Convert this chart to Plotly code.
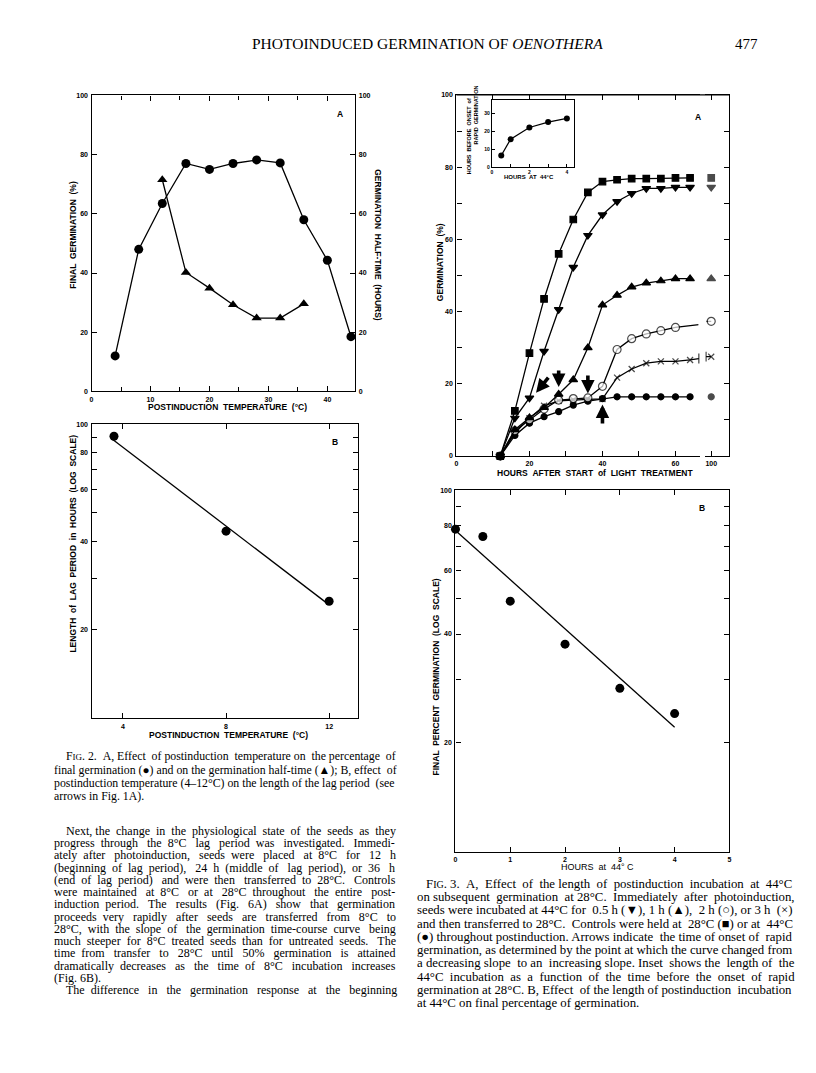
import plotly.graph_objects as go

W, H = 816, 1073

# ---------------- DATA ----------------
# Fig. 2A
temp_2a = [4, 8, 12, 16, 20, 24, 28, 32, 36, 40, 44]
final_germ_2a = [12, 48, 63.5, 77, 75, 77, 78.2, 77.2, 58, 44.3, 18.5]
temp_half_2a = [12, 16, 20, 24, 28, 32, 36]
half_time_2a = [71.5, 40.2, 34.9, 29.3, 24.8, 24.8, 29.6]

# Fig. 2B
temp_2b = [3.65, 8, 12]
lag_2b = [91, 43.3, 25]
fit_2b_x = [3.55, 11.95]
fit_2b_y = [89.5, 24.5]

# Fig. 3A
hours_3a = [12, 16, 20, 24, 28, 32, 36, 40, 44, 48, 52, 56, 60, 64]
ctrl28_sq = [0, 12.5, 28.5, 43.5, 56, 65.5, 73, 76, 76.5, 76.8, 76.8, 76.8, 77, 77]
h05_tri_dn = [0, 10.5, 16.1, 29, 40.6, 52.3, 61.1, 66.8, 70.5, 72.7, 74.1, 74.1, 74.4, 74.4]
h1_tri_up = [0, 7.3, 10.6, 13.4, 17.1, 21.1, 30, 41.8, 44.5, 46.8, 47.9, 48.5, 49.1, 49.1]
h2_open = [0, 7, 10, 13, 15.5, 15.9, 16.1, 19.3, 29.5, 32.5, 33.8, 34.7, 35.6]
h3_cross = [0, 6.4, 10.5, 13.9, 15.3, 15.6, 15.7, 15.8, 21.7, 24.1, 25.7, 26.2, 26.2, 26.6]
ctrl44_dot = [0, 5.7, 9.1, 10.9, 12.3, 14.1, 15.2, 15.9, 16.4, 16.4, 16.4, 16.4, 16.4, 16.4]
hour_far = 100
far_values = {"sq": 77, "dn": 74.4, "up": 49.1, "open": 37.3, "cross": 27.5, "dot": 16.4}
break_hour = 66.4
break_open = 36.4
break_cross = 27.0
far_break_hour = 98.6
# arrows (onset of rapid germination)
arrow_tip_x = [21.8, 28, 36, 40]
arrow_tip_y = [17.5, 19.1, 17.3, 14.3]
arrow_tail_x = [25.5, 28, 36, 40]
arrow_tail_y = [22.1, 24.1, 22.7, 8.6]

# Fig. 3A inset
inset_hours44 = [0.5, 1, 2, 3, 4]
inset_hours_before = [6.5, 15.5, 22, 25, 27]

# Fig. 3B
hours_3b = [0, 0.5, 1, 2, 3, 4]
final_3b = [78, 74.4, 49.3, 37.5, 28.3, 24.1]
fit_3b_x = [0, 4]
fit_3b_y = [77.3, 22.1]

# ---------------- HELPERS ----------------
def px(x):
    return x / W

def py(y):
    return 1 - y / H

def dom_x(a, b):
    return [a / W, b / W]

def dom_y(top, bottom):
    return [1 - bottom / H, 1 - top / H]

SANS = "Liberation Sans"
SERIF = "Liberation Serif"
NB = "\u00a0"
tickfont = dict(family=SANS, size=7, color="black", weight="bold")

def ax_style(**kw):
    d = dict(showline=True, linecolor="black", linewidth=1.3, ticks="inside",
             ticklen=5, tickwidth=1.2, tickcolor="black", showgrid=False,
             zeroline=False, tickfont=tickfont, fixedrange=True, ticklabelstandoff=1)
    d.update(kw)
    return d

fig = go.Figure()
LW = 1.3

# ---- Fig 2A ----
fig.add_trace(go.Scatter(x=temp_2a, y=final_germ_2a, mode="lines+markers",
                         line=dict(color="black", width=LW),
                         marker=dict(symbol="circle", size=9, color="black"),
                         xaxis="x", yaxis="y", cliponaxis=False))
fig.add_trace(go.Scatter(x=temp_half_2a, y=half_time_2a, mode="lines+markers",
                         line=dict(color="black", width=LW),
                         marker=dict(symbol="triangle-up", size=9, color="black"),
                         xaxis="x", yaxis="y2", cliponaxis=False))

# ---- Fig 2B ----
fig.add_trace(go.Scatter(x=fit_2b_x, y=fit_2b_y, mode="lines",
                         line=dict(color="black", width=LW), xaxis="x3", yaxis="y3"))
fig.add_trace(go.Scatter(x=temp_2b, y=lag_2b, mode="markers",
                         marker=dict(symbol="circle", size=9, color="black"),
                         xaxis="x3", yaxis="y3", cliponaxis=False))

# ---- Fig 3A main ----
def series(xs, ys, symbol, color, size, lc="black", lw=1.2):
    fig.add_trace(go.Scatter(x=xs, y=ys, mode="lines+markers",
                             line=dict(color="black", width=LW),
                             marker=dict(symbol=symbol, size=size, color=color,
                                         line=dict(color=lc, width=lw)),
                             xaxis="x4", yaxis="y4", cliponaxis=False))

series(hours_3a, ctrl44_dot, "circle", "black", 6)
series(hours_3a + [break_hour], h3_cross + [break_cross],
       ["x-thin-open"] * len(h3_cross) + ["line-ns-open"], "black",
       [6] * len(h3_cross) + [7], lw=1.3)
series(hours_3a[:len(h2_open)] + [break_hour], h2_open + [break_open],
       ["circle"] * len(h2_open) + ["line-ns-open"], "white",
       [8] * len(h2_open) + [7], lw=1.2)
series(hours_3a, h1_tri_up, "triangle-up", "black", 7.5)
series(hours_3a, h05_tri_dn, "triangle-down", "black", 7.5)
series(hours_3a, ctrl28_sq, "square", "black", 6.5)

# ---- Fig 3A far segment (100 h) ----
def far(key, symbol, color, size, with_bar=False):
    yv = far_values[key]
    if with_bar:
        xs, ys = [far_break_hour, hour_far], [yv, yv]
        sy = ["line-ns-open", symbol]
        sz = [7, size]
    else:
        xs, ys, sy, sz = [hour_far], [yv], [symbol], [size]
    fig.add_trace(go.Scatter(x=xs, y=ys, mode="lines+markers",
                             line=dict(color="black", width=LW),
                             marker=dict(symbol=sy, size=sz, color=color,
                                         line=dict(color="black", width=1.2)),
                             xaxis="x5", yaxis="y5", cliponaxis=False))

far("sq", "square", "black", 6.5)
far("dn", "triangle-down", "black", 7.5)
far("up", "triangle-up", "black", 7.5)
far("open", "circle", "white", 8, with_bar=True)
far("cross", "x-thin-open", "black", 6, with_bar=True)
far("dot", "circle", "black", 6)

# ---- Inset ----
fig.add_trace(go.Scatter(x=inset_hours44, y=inset_hours_before, mode="lines+markers",
                         line=dict(color="black", width=LW),
                         marker=dict(symbol="circle", size=6, color="black"),
                         xaxis="x6", yaxis="y6", cliponaxis=False))

# ---- Fig 3B ----
fig.add_trace(go.Scatter(x=fit_3b_x, y=fit_3b_y, mode="lines",
                         line=dict(color="black", width=LW), xaxis="x7", yaxis="y7"))
fig.add_trace(go.Scatter(x=hours_3b, y=final_3b, mode="markers",
                         marker=dict(symbol="circle", size=9, color="black"),
                         xaxis="x7", yaxis="y7", cliponaxis=False))

# ---------------- AXES ----------------
log_ticks = [20, 30, 40, 50, 60, 70, 80, 90, 100]
log_text = ["20", "", "40", "", "60", "", "80", "", "100"]
small_tf = dict(family=SANS, size=5, color="black", weight="bold")

layout = dict(
    width=W, height=H, margin=dict(l=0, r=0, t=0, b=0),
    paper_bgcolor="white", plot_bgcolor="white", showlegend=False,
    # 2A
    xaxis=ax_style(domain=dom_x(90, 355), range=[0, 44.73], anchor="y",
                   tickvals=[0, 10, 20, 30, 40], mirror="ticks",
                   minor=dict(dtick=5, tick0=0, ticks="inside", ticklen=4, tickcolor="black")),
    yaxis=ax_style(domain=dom_y(92, 390), range=[0, 100], anchor="x",
                   tickvals=[0, 20, 40, 60, 80, 100]),
    yaxis2=ax_style(overlaying="y", side="right", range=[0, 100], anchor="x",
                    tickvals=[0, 20, 40, 60, 80, 100]),
    # 2B
    xaxis3=ax_style(domain=dom_x(90, 358), range=[2.78, 13.13], anchor="y3",
                    tickvals=[4, 8, 12], mirror="ticks"),
    yaxis3=ax_style(domain=dom_y(423, 719), type="log", range=[1, 2], anchor="x3",
                    tickvals=log_ticks, ticktext=log_text, mirror="ticks"),
    # 3A main
    xaxis4=ax_style(domain=dom_x(456.7, 701), range=[0, 66.6], anchor="y4",
                    tickvals=[0, 10, 20, 30, 40, 50, 60],
                    ticktext=["0", "", "20", "", "40", "", "60"], mirror="ticks",
                    ticklabelstandoff=0),
    yaxis4=ax_style(domain=dom_y(91.5, 455), range=[0, 100], anchor="x4",
                    tickvals=[0, 10, 20, 30, 40, 50, 60, 70, 80, 90, 100],
                    ticktext=["0", "", "20", "", "40", "", "60", "", "80", "", "100"]),
    # 3A far segment
    xaxis5=ax_style(domain=dom_x(706, 731), range=[98.17, 104.99], anchor="y5",
                    tickvals=[100], mirror="ticks", ticklabelstandoff=0),
    yaxis5=ax_style(domain=dom_y(91.5, 455), range=[0, 100], anchor="x5", side="right",
                    tickvals=[10, 20, 30, 40, 50, 60, 70, 80, 90],
                    showticklabels=False),
    # inset
    xaxis6=ax_style(domain=dom_x(492.3, 575), range=[0, 4.39], anchor="y6",
                    tickvals=[0, 1, 2, 3, 4], ticktext=["0", "", "2", "", "4"],
                    mirror=True, ticklen=3, tickfont=small_tf, ticklabelstandoff=0),
    yaxis6=ax_style(domain=dom_y(97, 164.3), range=[0, 37], anchor="x6",
                    tickvals=[0, 10, 20, 30], mirror=True, ticklen=3,
                    tickfont=small_tf, ticklabelstandoff=0),
    # 3B
    xaxis7=ax_style(domain=dom_x(455.7, 731), range=[0, 5], anchor="y7",
                    tickvals=[0, 1, 2, 3, 4, 5], mirror="ticks"),
    yaxis7=ax_style(domain=dom_y(489.3, 853.3), type="log", range=[1, 2], anchor="x7",
                    tickvals=log_ticks, ticktext=log_text, mirror="ticks"),
)
fig.update_layout(**layout)

# top border of 3A bridging the axis break
fig.add_shape(type="line", xref="paper", yref="paper",
              x0=px(456.7), x1=px(731), y0=py(91.5), y1=py(91.5),
              line=dict(color="black", width=1.3))

ann = []

def label(text, x, y, size=8, angle=0, family=SANS, xanchor="center", weight="normal"):
    ann.append(dict(text=text, x=px(x), y=py(y), xref="paper", yref="paper",
                    showarrow=False, textangle=angle, xanchor=xanchor, yanchor="middle",
                    font=dict(family=family, size=size, color="black", weight=weight)))

def sp(t):
    return t.replace("  ", " " + NB)

AX = dict(size=8.5, weight="bold")
# Fig 2A labels
label(sp("FINAL  GERMINATION  (%)"), 71.5, 232, angle=-90, **AX)
label(sp("GERMINATION  HALF-TIME  (HOURS)"), 377, 243, angle=90, **AX)
label(sp("POSTINDUCTION  TEMPERATURE  (°C)"), 227, 406, **AX)
label("A", 340, 111, **AX)
# Fig 2B labels
label(sp("LENGTH  of  LAG  PERIOD  in  HOURS  (LOG  SCALE)"), 71.5, 543, angle=-90, **AX)
label(sp("POSTINDUCTION  TEMPERATURE  (°C)"), 228, 736, **AX)
label("B", 335, 441, **AX)
# Fig 3A labels
label(sp("GERMINATION  (%)"), 440, 260, angle=-90, **AX)
label(sp("HOURS  AFTER  START  of  LIGHT  TREATMENT"), 596, 472, **AX)
label("A", 699, 114, **AX)
label(sp("HOURS  AT  44°C"), 530, 174, size=6, weight="bold")
label(sp("HOURS  BEFORE  ONSET  of"), 469.5, 133, size=5.5, angle=-90, weight="bold")
label(sp("RAPID  GERMINATION"), 476.5, 112, size=5.5, angle=-90, weight="bold")
# Fig 3B labels
label(sp("FINAL  PERCENT  GERMINATION  (LOG  SCALE)"), 436, 677, angle=-90, **AX)
label(sp("HOURS  at  44° C"), 598, 869, size=9)
label("B", 703, 507, **AX)

# page header
label("PHOTOINDUCED GERMINATION OF <i>OENOTHERA</i>", 428, 40, size=15.5, family=SERIF)
label("477", 748, 40, size=15, family=SERIF)

# ---- justified body text (Times metrics, per 1000 em) ----
TW = {" ": 250, "!": 333, "%": 833, "(": 333, ")": 333, ",": 250, "-": 333, ".": 250,
      ":": 278, ";": 278, "°": 400, "–": 500, "×": 564, "●": 604, "○": 604, "■": 604,
      "▲": 990, "▼": 990,
      "A": 722, "B": 667, "C": 667, "D": 722, "E": 611, "F": 556, "G": 722, "H": 722,
      "I": 333, "J": 389, "K": 722, "L": 611, "M": 889, "N": 722, "O": 722, "P": 556,
      "Q": 722, "R": 667, "S": 556, "T": 611, "U": 722, "V": 722, "W": 944, "X": 722,
      "Y": 722, "Z": 611,
      "a": 444, "b": 500, "c": 444, "d": 500, "e": 444, "f": 333, "g": 500, "h": 500,
      "i": 278, "j": 278, "k": 500, "l": 278, "m": 778, "n": 500, "o": 500, "p": 500,
      "q": 500, "r": 333, "s": 389, "t": 278, "u": 500, "v": 500, "w": 722, "x": 500,
      "y": 500, "z": 444}

PAD = 3  # annotation inner padding

def text_w(s, size):
    return sum(TW.get(c, 500) for c in s) / 1000 * size

def justify(text, x0, right, size, prefix="", prefix_w=0.0):
    natural = text_w(text, size) + prefix_w
    gaps = text.count(" ")
    extra = right - x0 - natural
    n = int(extra / (0.25 * size))
    if n <= 0 or gaps == 0:
        return prefix + text
    words = text.split(" ")
    out = words[0]
    for i, wd in enumerate(words[1:]):
        k = (n * (i + 1)) // gaps - (n * i) // gaps
        out += " " + NB * k + wd
    return prefix + out

def block(lines, y0, dy, size, right, sc_size):
    for i, (t, x, just) in enumerate(lines):
        prefix, pw = "", 0.0
        if t.startswith("FIG."):
            prefix = "F<span style='font-size:%dpx'>IG</span>." % sc_size
            pw = text_w("F.", size) + text_w("IG", sc_size)
            t = t[4:]
        txt = justify(t, x, right, size, prefix, pw) if just else prefix + t
        label(txt, x - PAD, y0 + i * dy, size=size, family=SERIF, xanchor="left")

cap2 = [
    ("FIG. 2. A, Effect of postinduction temperature on the percentage of", 65, True),
    ("final germination (●) and on the germination half-time (▲); B, effect of", 53.3, True),
    ("postinduction temperature (4–12°C) on the length of the lag period (see", 53.3, True),
    ("arrows in Fig. 1A).", 53.3, False),
]
block(cap2, 757.3, 13.33, 11.8, 396.7, 9)

para = [
    ("Next, the change in the physiological state of the seeds as they", 65, True),
    ("progress through the 8°C lag period was investigated. Immedi-", 53.3, True),
    ("ately after photoinduction, seeds were placed at 8°C for 12 h", 53.3, True),
    ("(beginning of lag period), 24 h (middle of lag period), or 36 h", 53.3, True),
    ("(end of lag period) and were then transferred to 28°C. Controls", 53.3, True),
    ("were maintained at 8°C or at 28°C throughout the entire post-", 53.3, True),
    ("induction period. The results (Fig. 6A) show that germination", 53.3, True),
    ("proceeds very rapidly after seeds are transferred from 8°C to", 53.3, True),
    ("28°C, with the slope of the germination time-course curve being", 53.3, True),
    ("much steeper for 8°C treated seeds than for untreated seeds. The", 53.3, True),
    ("time from transfer to 28°C until 50% germination is attained", 53.3, True),
    ("dramatically decreases as the time of 8°C incubation increases", 53.3, True),
    ("(Fig. 6B).", 53.3, False),
    ("The difference in the germination response at the beginning", 65, True),
]
block(para, 832.3, 12.33, 12.0, 396.7, 9)

cap3 = [
    ("FIG. 3. A, Effect of the length of postinduction incubation at 44°C", 427.3, True),
    ("on subsequent germination at 28°C. Immediately after photoinduction,", 418, True),
    ("seeds were incubated at 44°C for 0.5 h (▼), 1 h (▲), 2 h (○), or 3 h (×)", 418, True),
    ("and then transferred to 28°C. Controls were held at 28°C (■) or at 44°C", 418, True),
    ("(●) throughout postinduction. Arrows indicate the time of onset of rapid", 418, True),
    ("germination, as determined by the point at which the curve changed from", 418, True),
    ("a decreasing slope to an increasing slope. Inset shows the length of the", 418, True),
    ("44°C incubation as a function of the time before the onset of rapid", 418, True),
    ("germination at 28°C. B, Effect of the length of postinduction incubation", 418, True),
    ("at 44°C on final percentage of germination.", 418, False),
]
block(cap3, 885.7, 13.33, 12.8, 796, 10)

# arrows in Fig 3A
for tx, ty, sx, sy in zip(arrow_tip_x, arrow_tip_y, arrow_tail_x, arrow_tail_y):
    ann.append(dict(x=tx, y=ty, ax=sx, ay=sy, xref="x4", yref="y4", axref="x4", ayref="y4",
                    showarrow=True, arrowhead=2, arrowsize=0.75, arrowwidth=3.6,
                    arrowcolor="black", text=""))

fig.update_layout(annotations=ann)
fig.write_html("out.html", config={"displayModeBar": False},
               post_script="document.body.style.margin='0px';")
